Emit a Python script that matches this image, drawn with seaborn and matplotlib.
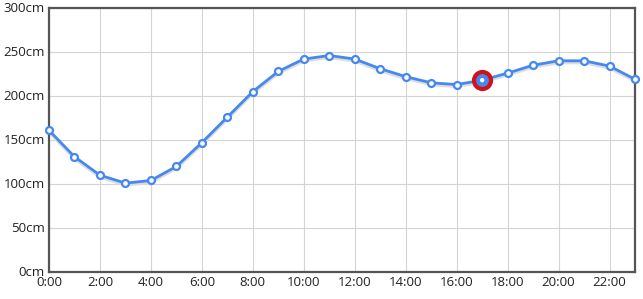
import matplotlib
matplotlib.use("Agg")
import matplotlib.pyplot as plt
import seaborn as sns
import pandas as pd

hours = list(range(24))
levels = [161, 131, 110, 101, 104, 120, 147, 176, 205, 228, 242, 246,
          242, 231, 222, 215, 213, 218, 226, 235, 240, 240, 234, 219]
highlight_hour = 17
xtick_hours = list(range(0, 24, 2))
xtick_labels = [f"{h}:00" for h in xtick_hours]
ytick_values = [0, 50, 100, 150, 200, 250, 300]
ytick_labels = [f"{v}cm" for v in ytick_values]

df = pd.DataFrame({"hour": hours, "level": levels})

sns.set_theme(style="white")
plt.rcParams['font.family'] = ['Open Sans', 'DejaVu Sans']

fig = plt.figure(figsize=(6.43, 2.99), dpi=100)
ax = fig.add_axes([49/643, 27/299, 586/643, 264/299])

# soft shadow under the line
sns.lineplot(data=df.assign(level=df.level - 2.0), x="hour", y="level", ax=ax,
             color="#dddddd", linewidth=2.5, zorder=2)
sns.lineplot(data=df, x="hour", y="level", ax=ax, color="#4488f0",
             linewidth=2, marker="o", markersize=5, markerfacecolor="white",
             markeredgecolor="#4488f0", markeredgewidth=1.6, zorder=3)
hl = df[df.hour == highlight_hour]
sns.scatterplot(data=hl, x="hour", y="level", ax=ax, s=150, color="#4488f0",
                edgecolor="#d0121b", linewidth=3, zorder=4)
sns.scatterplot(data=hl, x="hour", y="level", ax=ax, s=10, color="white",
                edgecolor="none", zorder=5)

ax.set_xlim(0, 23)
ax.set_ylim(0, 300)
ax.set_xticks(xtick_hours)
ax.set_xticklabels(xtick_labels)
ax.set_yticks(ytick_values)
ax.set_yticklabels(ytick_labels)
ax.set_xlabel("")
ax.set_ylabel("")
ax.grid(True, color="#d4d4d4", linewidth=0.8)
for s in ax.spines.values():
    s.set_color("#555555")
    s.set_linewidth(1.6)
ax.tick_params(axis="both", length=0, labelsize=9.5, colors="#222222", pad=3)
for l in ax.get_yticklabels():
    l.set_verticalalignment("center")
for art in ax.collections + ax.lines:
    art.set_clip_on(False)

fig.savefig("out.png", dpi=100)
